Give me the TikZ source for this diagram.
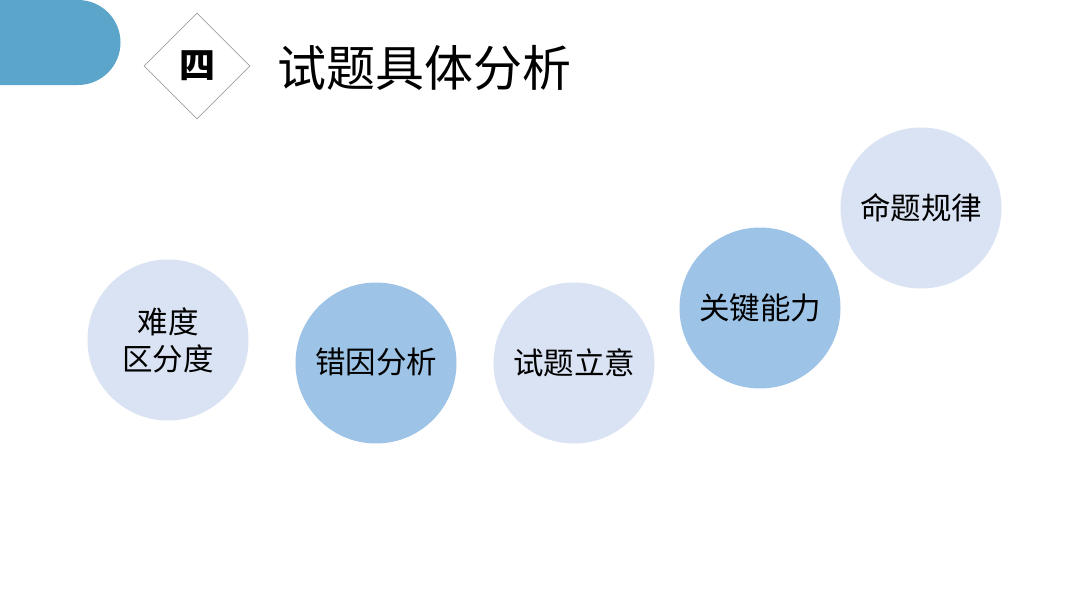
\documentclass[tikz,border=0pt]{standalone}
\usepackage{fontspec}
\usetikzlibrary{shapes.geometric}
\newfontfamily\cjk{Noto Sans CJK SC}
\definecolor{tabblue}{HTML}{5BA5CB}
\definecolor{lightc}{HTML}{DAE3F3}
\definecolor{midc}{HTML}{9DC3E6}
\definecolor{dgray}{HTML}{A0A0A0}
\tikzset{
  bub/.style={circle, minimum size=161pt, inner sep=0pt, align=center, font=\cjk\fontsize{30.5}{37}\selectfont, text=black},
  lightbub/.style={bub, fill=lightc},
  midbub/.style={bub, fill=midc}
}
\begin{document}
\begin{tikzpicture}[x=1pt,y=-1pt]
\useasboundingbox (0,0) rectangle (1080,608);
\fill[white] (0,0) rectangle (1080,608);
% tab
\fill[tabblue] (0,0) -- (78,0) arc[start angle=-90,end angle=90,radius=42.5] -- (0,85) -- cycle;
% diamond
\node[diamond, draw=dgray, line width=0.8pt, minimum width=106pt, minimum height=106pt, inner sep=0pt, aspect=1, font=\cjk\bfseries\fontsize{36}{36}\selectfont] (num) at (197,66) {四};
\node[anchor=west, font=\cjk\fontsize{49}{49}\selectfont, inner sep=0pt] (title) at (277,68) {试题具体分析};
% bubbles
\node[lightbub] (b1) at (168,340) {难度\\区分度};
\node[midbub] (b2) at (376,363) {\raisebox{5pt}{错因分析}};
\node[lightbub] (b3) at (574,363) {试题立意};
\node[midbub] (b4) at (760,308) {\raisebox{-4pt}{关键能力}};
\node[lightbub] (b5) at (921,208) {命题规律};
\end{tikzpicture}
\end{document}
